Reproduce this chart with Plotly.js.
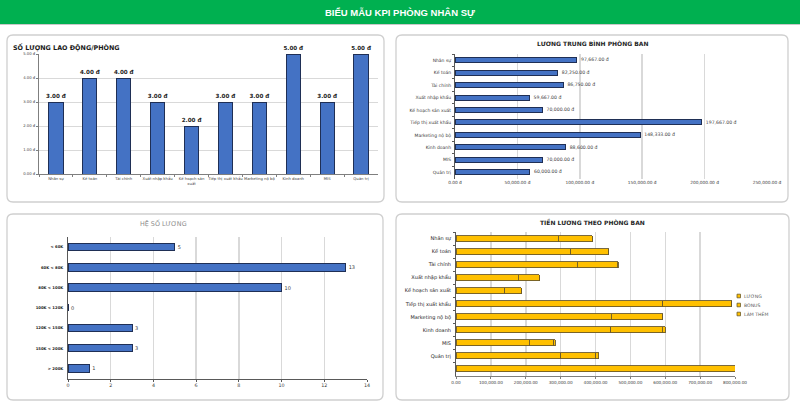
<!DOCTYPE html>
<html>
<head>
<meta charset="utf-8">
<script src="https://cdn.plot.ly/plotly-3.0.1.min.js"></script>
<style>
html,body{margin:0;padding:0;background:#fff;}
#chart{width:800px;height:406px;}
</style>
</head>
<body>
<div id="chart"></div>
<script>
// ---------- DATA ----------
const depts = ['Nhân sự','Kế toán','Tài chính','Xuất nhập khẩu','Kế hoạch sản xuất','Tiếp thị xuất khẩu','Marketing nộ bộ','Kinh doanh','MIS','Quản trị'];
const deptTickText = ['Nhân sự','Kế toán','Tài chính','Xuất nhập khẩu','Kế hoạch sản<br>xuất','Tiếp thị xuất khẩu','Marketing nộ bộ','Kinh doanh','MIS','Quản trị'];
const headcount = [3,4,4,3,2,3,3,5,3,5];
const avgSalary = [97667,82250,86750,59667,70000,197667,148333,88600,70000,60000];
const salaryBands = ['< 60K','60K < 80K','80K < 100K','100K < 120K','120K < 150K','150K < 200K','> 200K'];
const bandCounts = [5,13,10,0,3,3,1];
const payDepts = ['Nhân sự','Kế toán','Tài chính','Xuất nhập khẩu','Kế hoạch sản xuất','Tiếp thị xuất khẩu','Marketing nộ bộ','Kinh doanh','MIS','Quản trị',' '];
const luong   = [293000,329000,347000,179000,140000,593000,445000,443000,210000,300000,800000];
const bonus   = [97667,109667,115667,59667,46667,197667,148333,147667,70000,100000,0];
const lamThem = [0,0,3000,0,0,0,0,10000,5000,10000,0];
const payNames = ['LƯƠNG','BONUS','LÀM THÊM'];
const payTickVals = [0,100000,200000,300000,400000,500000,600000,700000,800000];

// ---------- STYLE ----------
const W = 800, H = 406;
const px = v => v / W;
const py = v => 1 - v / H;
const BLUE = '#4472C4', BLUE_LINE = '#1f2f55';
const GOLD = '#FFC000', GOLD_LINE = '#6b5a2a';
const GRID = '#d9d9d9';
const FONT = 'DejaVu Sans';
const tiny = {family: FONT, size: 4.2, color: '#404040'};
const fmtMoney = v => v.toLocaleString('en-US', {minimumFractionDigits:2, maximumFractionDigits:2}) + ' đ';

const traces = [];
// Chart 1: headcount
traces.push({
  type:'bar', x: depts, y: headcount, xaxis:'x', yaxis:'y',
  marker:{color:BLUE, line:{color:BLUE_LINE, width:1}},
  width: 0.42,
  text: headcount.map(v => v.toFixed(2) + ' đ'),
  textposition:'outside', cliponaxis:false, constraintext:'none',
  textfont:{family:FONT, size:5.6, color:'#262626', weight:'bold'},
  showlegend:false
});
// Chart 2: avg salary
traces.push({
  type:'bar', orientation:'h', y: depts, x: avgSalary, xaxis:'x2', yaxis:'y2',
  marker:{color:BLUE, line:{color:BLUE_LINE, width:1}},
  width: 0.4, showlegend:false
});
traces.push({
  type:'scatter', mode:'markers+text', y: depts, x: avgSalary, xaxis:'x2', yaxis:'y2',
  marker:{size:5, color:'rgba(0,0,0,0)', line:{width:0}},
  text: avgSalary.map(fmtMoney), textposition:'middle right', cliponaxis:false,
  textfont:{family:FONT, size:4.6, color:'#404040'}, showlegend:false
});
// Chart 3: salary bands
traces.push({
  type:'bar', orientation:'h', y: salaryBands, x: bandCounts, xaxis:'x3', yaxis:'y3',
  marker:{color:BLUE, line:{color:BLUE_LINE, width:1}},
  width: 0.37,
  text: bandCounts.map(String), textposition:'outside', cliponaxis:false, constraintext:'none',
  textfont:{family:FONT, size:5, color:'#404040'},
  showlegend:false
});
// Chart 4: stacked pay
[luong, bonus, lamThem].forEach((arr, i) => {
  traces.push({
    type:'bar', orientation:'h', y: payDepts, x: arr, xaxis:'x4', yaxis:'y4',
    name: payNames[i],
    marker:{color:GOLD, line:{color:GOLD_LINE, width:0.9}},
    width: 0.46, showlegend:false
  });
});

// ---------- PANELS / SHAPES ----------
function roundRect(x0,y0,x1,y1,r){
  const rx = r/W, ry = r/H;
  const X0=px(x0), X1=px(x1), Y0=py(y0), Y1=py(y1);
  return `M ${X0+rx},${Y0} L ${X1-rx},${Y0} Q ${X1},${Y0} ${X1},${Y0-ry} L ${X1},${Y1+ry} Q ${X1},${Y1} ${X1-rx},${Y1} L ${X0+rx},${Y1} Q ${X0},${Y1} ${X0},${Y1+ry} L ${X0},${Y0-ry} Q ${X0},${Y0} ${X0+rx},${Y0} Z`;
}
const panels = [[7,35,384,202],[396,35,788,202],[7,214,383,400],[396,214,789,400]];
const shapes = [
  {type:'rect', xref:'paper', yref:'paper', x0:0, x1:1, y0:py(24), y1:1, fillcolor:'#00B050', line:{width:0}, layer:'below'},
  {type:'line', xref:'paper', yref:'paper', x0:0, x1:1, y0:py(24.5), y1:py(24.5), line:{color:'#c8c8c8', width:1}, layer:'below'}
];
panels.forEach(p => shapes.push({type:'path', xref:'paper', yref:'paper', path: roundRect(p[0],p[1],p[2],p[3],6),
  fillcolor:'#ffffff', line:{color:'#cfcfcf', width:1.3}, layer:'below'}));

const annotations = [
  {xref:'paper', yref:'paper', x:0.5, y:py(12.5), text:'<b>BIỂU MẪU KPI PHÒNG NHÂN SỰ</b>', showarrow:false,
   font:{family:'Liberation Sans', size:9.5, color:'#ffffff'}, xanchor:'center', yanchor:'middle'},
  {xref:'paper', yref:'paper', x:px(11), y:py(47.5), text:'<b>SỐ LƯỢNG LAO ĐỘNG/PHÒNG</b>', showarrow:false,
   font:{family:FONT, size:6.4, color:'#1a1a1a'}, xanchor:'left', yanchor:'middle'},
  {xref:'paper', yref:'paper', x:px(592), y:py(44), text:'<b>LƯƠNG TRUNG BÌNH PHÒNG BAN</b>', showarrow:false,
   font:{family:FONT, size:6, color:'#262626'}, xanchor:'center', yanchor:'middle'},
  {xref:'paper', yref:'paper', x:px(163), y:py(223.5), text:'HỆ SỐ LƯƠNG', showarrow:false,
   font:{family:FONT, size:6.4, color:'#8c8c8c'}, xanchor:'center', yanchor:'middle'},
  {xref:'paper', yref:'paper', x:px(592), y:py(222), text:'<b>TIỀN LƯƠNG THEO PHÒNG BAN</b>', showarrow:false,
   font:{family:FONT, size:6, color:'#262626'}, xanchor:'center', yanchor:'middle'}
];
// compact legend for chart 4
payNames.forEach((n, i) => {
  const cy = 296 + i*9;
  shapes.push({type:'rect', xref:'paper', yref:'paper', x0:px(737), x1:px(740.5), y0:py(cy+1.8), y1:py(cy-1.8),
    fillcolor:GOLD, line:{color:GOLD_LINE, width:0.8}});
  annotations.push({xref:'paper', yref:'paper', x:px(741.5), y:py(cy), text:n, showarrow:false,
    font:{family:FONT, size:4.6, color:'#595959'}, xanchor:'left', yanchor:'middle'});
});

const baseAxis = {fixedrange:true, tickfont:tiny, zeroline:false, automargin:false};

const layout = {
  width:W, height:H, margin:{l:0,r:0,t:0,b:0},
  paper_bgcolor:'#ffffff', plot_bgcolor:'rgba(0,0,0,0)',
  barmode:'stack', showlegend:false,
  font:{family:FONT},
  shapes, annotations,
  // chart 1
  xaxis: Object.assign({}, baseAxis, {domain:[px(39), px(378)], anchor:'y', type:'category',
    tickvals: depts, ticktext: deptTickText, tickangle:0, ticks:'outside', tickson:'boundaries', ticklen:2,
    tickcolor:'#7f7f7f', showline:true, linecolor:'#7f7f7f', linewidth:1, showgrid:false,
    tickfont:{family:FONT, size:3.8, color:'#404040'}}),
  yaxis: Object.assign({}, baseAxis, {domain:[py(174), py(54)], anchor:'x', range:[0,5], dtick:1,
    tickformat:'.2f', ticksuffix:' đ', ticks:'outside', ticklen:2, tickcolor:'#7f7f7f',
    showline:true, linecolor:'#7f7f7f', linewidth:1, showgrid:true, gridcolor:GRID, gridwidth:1,
    tickfont:{family:FONT, size:3.8, color:'#404040'}}),
  // chart 2
  xaxis2: Object.assign({}, baseAxis, {domain:[px(455), px(767)], anchor:'y2', range:[0,250000], dtick:50000,
    tickformat:',.2f', ticksuffix:' đ', tickangle:0, showgrid:true, gridcolor:GRID, gridwidth:1.5, showline:false,
    tickfont:{family:FONT, size:4.3, color:'#404040'}}),
  yaxis2: Object.assign({}, baseAxis, {domain:[py(178.5), py(54)], anchor:'x2', type:'category',
    range:[depts.length - 0.5, -0.5], autorange:false,
    showline:true, linecolor:'#595959', linewidth:1, ticks:'outside', tickson:'boundaries',
    ticklen:2, tickcolor:'#595959', showgrid:false, ticklabelstandoff:2,
    tickfont:{family:FONT, size:4.5, color:'#404040'}}),
  // chart 3
  xaxis3: Object.assign({}, baseAxis, {domain:[px(68), px(367)], anchor:'y3', range:[0,14], dtick:2,
    showgrid:true, gridcolor:GRID, gridwidth:1.5, showline:true, linecolor:'#595959', linewidth:1,
    ticks:'outside', ticklen:2, tickcolor:'#595959', tickangle:0,
    tickfont:{family:FONT, size:4.8, color:'#404040'}}),
  yaxis3: Object.assign({}, baseAxis, {domain:[py(378.5), py(237)], anchor:'x3', type:'category',
    autorange:'reversed', showline:true, linecolor:'#595959', linewidth:1, showgrid:false, ticklabelstandoff:3,
    tickfont:{family:FONT, size:3.8, color:'#262626', weight:'bold'}}),
  // chart 4
  xaxis4: Object.assign({}, baseAxis, {domain:[px(456), px(735)], anchor:'y4', range:[0,800000],
    tickvals: payTickVals, tickformat:',.2f', ticksuffix:' đ', tickangle:0,
    showgrid:true, gridcolor:GRID, gridwidth:1.5, showline:true, linecolor:'#7f7f7f', linewidth:1,
    ticks:'outside', ticklen:2, tickcolor:'#7f7f7f',
    tickfont:{family:FONT, size:4.2, color:'#404040'}}),
  yaxis4: Object.assign({}, baseAxis, {domain:[py(375.5), py(232)], anchor:'x4', type:'category',
    autorange:'reversed', showline:true, linecolor:'#595959', linewidth:1, showgrid:false,
    ticks:'outside', tickson:'boundaries', ticklen:2, tickcolor:'#595959', ticklabelstandoff:3,
    tickfont:{family:FONT, size:5, color:'#262626'}})
};

Plotly.newPlot('chart', traces, layout, {displayModeBar:false, staticPlot:true});
</script>
</body>
</html>
